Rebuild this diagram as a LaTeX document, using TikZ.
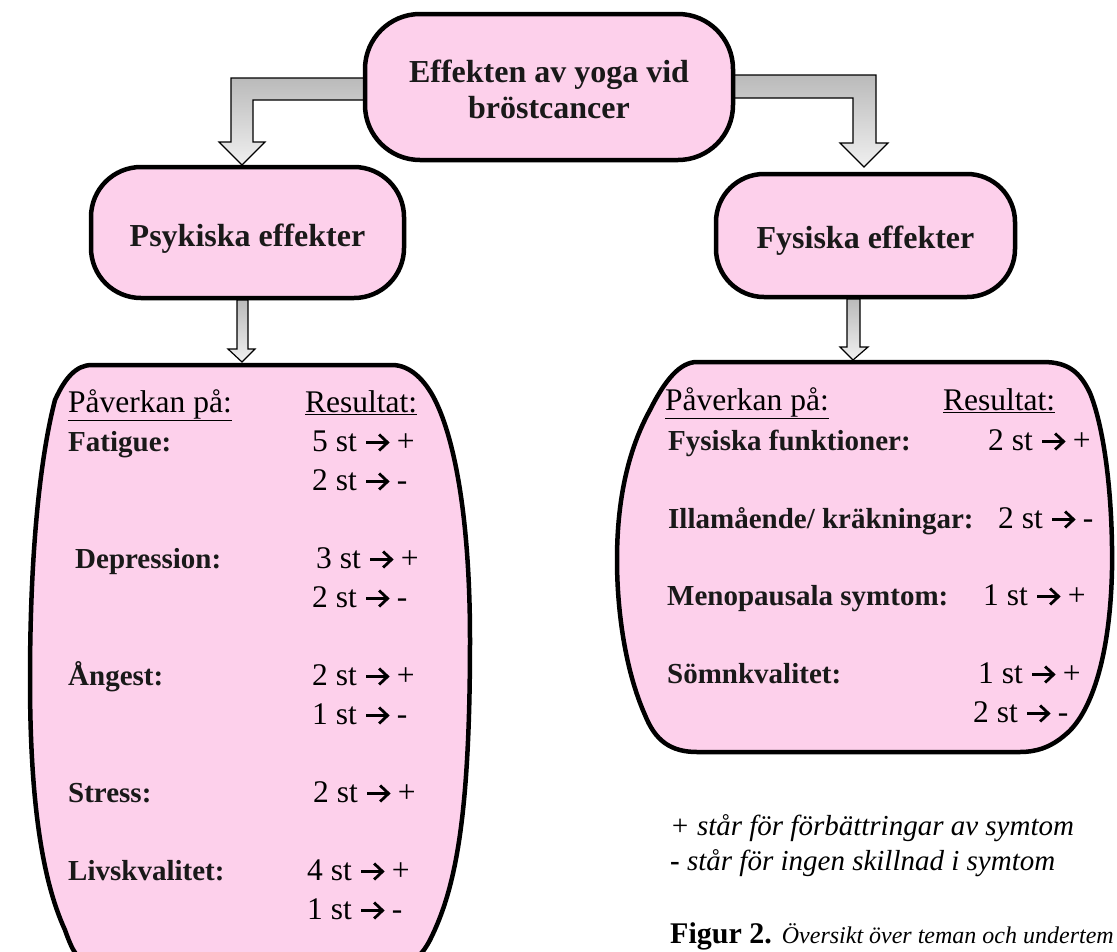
\documentclass[tikz,border=0pt]{standalone}
\usepackage{fontspec}
\setmainfont{Liberation Serif}
\definecolor{pinkfill}{RGB}{253,208,235}
\newcommand{\rarr}{\tikz[x=1pt,y=1pt,baseline=-8.5pt,line width=2.8pt,line cap=butt]{%
  \draw (0,0) -- (21.5,0);
  \draw[line join=miter] (13,8) -- (21.5,0) -- (13,-8);}}
\begin{document}
\begin{tikzpicture}[x=1pt,y=-1pt,
  nodebox/.style={draw=black, line width=4.5pt, fill=pinkfill, inner sep=0pt},
  headtxt/.style={anchor=base, inner sep=0pt, font=\fontsize{32}{36}\selectfont\bfseries, text=black!90},
  blockarrow/.style={draw=black, line width=1.2pt, top color=black!27, bottom color=black!6},
  listshape/.style={draw=black, line width=4.5pt, fill=pinkfill},
  txt/.style={anchor=base west, inner sep=0pt, font=\fontsize{31.5}{36}\selectfont},
  lbl/.style={anchor=base west, inner sep=0pt, font=\fontsize{29}{34}\selectfont\bfseries, text=black!90},
  legend/.style={anchor=base west, inner sep=0pt, font=\fontsize{29}{34}\selectfont\itshape}
]
\useasboundingbox (0,0) rectangle (1117,951);
\clip (0,0) rectangle (1117,951);

% bent block arrows (drawn first, under the top node)
\path[blockarrow] (370,78) -- (231,78) -- (231,142) -- (219,142) -- (242,165)
  -- (265,142) -- (253,142) -- (253,100) -- (370,100) -- cycle;
\path[blockarrow] (728,75) -- (876,75) -- (876,143) -- (888,143) -- (864,167)
  -- (840,143) -- (853,143) -- (853,98) -- (728,98) -- cycle;

% main nodes
\node[nodebox, minimum width=368pt, minimum height=146pt, rounded corners=55pt] (top) at (549,87) {};
\node[headtxt] (topt1) at (549,82) {Effekten av yoga vid};
\node[headtxt] (topt2) at (549,118) {bröstcancer};
\node[nodebox, minimum width=313pt, minimum height=131pt, rounded corners=50pt] (psy) at (247.5,232.5) {};
\node[headtxt] (psyt) at (247.5,246) {Psykiska effekter};
\node[nodebox, minimum width=299pt, minimum height=123pt, rounded corners=48pt] (fys) at (865.5,235.5) {};
\node[headtxt] (fyst) at (865.5,248) {Fysiska effekter};

% list shapes
\path[listshape] (92,365) -- (392,365) .. controls (410,365) and (425,380) .. (435,400)
  .. controls (455,440) and (470,520) .. (470,640)
  .. controls (470,820) and (455,890) .. (430,940)
  .. controls (422,955) and (415,962) .. (400,962) -- (90,962)
  .. controls (78,962) and (72,950) .. (65,930)
  .. controls (42,880) and (30,800) .. (30,680)
  .. controls (30,540) and (42,450) .. (55,400)
  .. controls (65,378) and (76,365) .. (92,365) -- cycle;
\coordinate (psylist) at (242,365);

\path[listshape] (697,362) -- (1043,362) .. controls (1068,362) and (1080,372) .. (1090,393)
  .. controls (1105,430) and (1113,500) .. (1112,570)
  .. controls (1110,660) and (1090,715) .. (1065,735)
  .. controls (1050,748) and (1035,752) .. (1020,752) -- (697,752)
  .. controls (670,752) and (655,740) .. (645,715)
  .. controls (625,670) and (617,610) .. (617,560)
  .. controls (617,500) and (628,450) .. (650,410)
  .. controls (665,380) and (680,362) .. (697,362) -- cycle;
\coordinate (fyslist) at (853,362);

% small down arrows from the effect nodes to the lists
\path[blockarrow] (237,300) -- (248,300) -- (248,349) -- (255,349) -- (242,362)
  -- (228,349) -- (237,349) -- cycle;
\path[blockarrow] (847,299) -- (860,299) -- (860,347) -- (868,347) -- (853,360)
  -- (840,347) -- (847,347) -- cycle;

% left list text
\node[txt] (lh1) at (68,412) {\underline{Påverkan på:}};
\node[txt] (lh2) at (305,412) {\underline{Resultat:}};
\node[lbl] (la1) at (68,451) {Fatigue:};
\node[txt] (lr1) at (312,451) {5 st \rarr{} +};
\node[txt] (lr2) at (312,490) {2 st \rarr{} -};
\node[lbl] (la2) at (75,568) {Depression:};
\node[txt] (lr3) at (316,568) {3 st \rarr{} +};
\node[txt] (lr4) at (312,607) {2 st \rarr{} -};
\node[lbl] (la3) at (68,685) {Ångest:};
\node[txt] (lr5) at (312,685) {2 st \rarr{} +};
\node[txt] (lr6) at (312,724) {1 st \rarr{} -};
\node[lbl] (la4) at (68,802) {Stress:};
\node[txt] (lr7) at (313,802) {2 st \rarr{} +};
\node[lbl] (la5) at (68,880) {Livskvalitet:};
\node[txt] (lr8) at (307,880) {4 st \rarr{} +};
\node[txt] (lr9) at (307,919) {1 st \rarr{} -};

% right list text
\node[txt] (rh1) at (665,410) {\underline{Påverkan på:}};
\node[txt] (rh2) at (943,410) {\underline{Resultat:}};
\node[lbl] (ra1) at (668,450) {Fysiska funktioner:};
\node[txt] (rr1) at (988,450) {2 st \rarr{} +};
\node[lbl] (ra2) at (668,528) {Illamående/ kräkningar:};
\node[txt] (rr2) at (998,528) {2 st \rarr{} -};
\node[lbl] (ra3) at (667,605) {Menopausala symtom:};
\node[txt] (rr3) at (983,605) {1 st \rarr{} +};
\node[lbl] (ra4) at (667,683) {Sömnkvalitet:};
\node[txt] (rr4) at (978,683) {1 st \rarr{} +};
\node[txt] (rr5) at (973,722) {2 st \rarr{} -};

% legend and caption
\node[legend] (leg1) at (670,835) {+ står för förbättringar av symtom};
\node[legend] (leg2) at (670,870) {\textbf{\upshape -} står för ingen skillnad i symtom};
\node[anchor=base west, inner sep=0pt] (cap) at (670,943)
  {\fontsize{30}{34}\selectfont\textbf{Figur 2.} \fontsize{24}{30}\selectfont\textit{Översikt över teman och undertem}};
\end{tikzpicture}
\end{document}
